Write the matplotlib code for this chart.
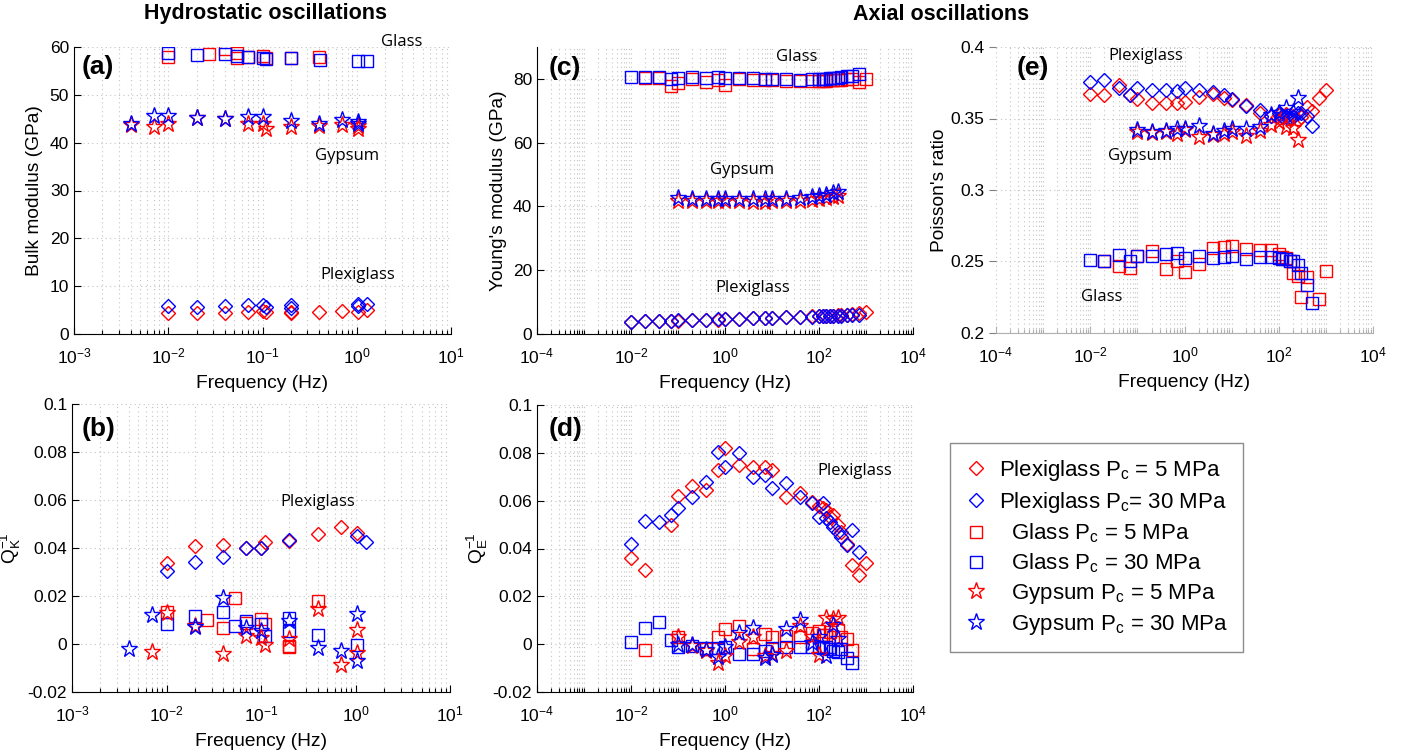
import numpy as np
import matplotlib
matplotlib.use('Agg')
import matplotlib.pyplot as plt
from matplotlib.ticker import LogLocator, NullFormatter, FuncFormatter, FixedLocator

plt.rcParams['font.family'] = ['Liberation Sans', 'DejaVu Sans']
plt.rcParams['mathtext.fontset'] = 'custom'
plt.rcParams['mathtext.rm'] = 'Liberation Sans'
plt.rcParams['mathtext.it'] = 'Liberation Sans:italic'
plt.rcParams['mathtext.default'] = 'regular'
plt.rcParams['axes.unicode_minus'] = False

# ---------------- hydrostatic: bulk modulus (a) ----------------
fa_plexi5 = [0.01, 0.02, 0.04, 0.07, 0.1, 0.11, 0.2, 0.2, 0.4, 0.7, 1.04, 1.3]
Ka_plexi5 = [4.3, 4.3, 4.3, 4.5, 4.9, 4.5, 4.3, 4.7, 4.7, 4.9, 4.7, 5.0]
fa_plexi30 = [0.01, 0.02, 0.04, 0.07, 0.1, 0.11, 0.2, 0.2, 1.04, 1.04, 1.3]
Ka_plexi30 = [5.8, 5.7, 5.8, 6.0, 6.0, 5.6, 6.0, 5.4, 6.3, 5.8, 6.3]
fa_glass5 = [0.01, 0.027, 0.04, 0.053, 0.053, 0.07, 0.1, 0.11, 0.2, 0.4]
Ka_glass5 = [58.0, 58.6, 59.6, 58.8, 57.8, 58.0, 58.2, 57.6, 57.8, 58.0]
fa_glass30 = [0.01, 0.02, 0.04, 0.053, 0.07, 0.1, 0.11, 0.2, 0.41, 1.04, 1.3]
Ka_glass30 = [58.7, 58.4, 58.5, 58.2, 57.9, 57.8, 57.5, 57.6, 57.2, 57.1, 57.1]
fa_gyp5 = [0.004, 0.007, 0.01, 0.02, 0.04, 0.07, 0.1, 0.11, 0.2, 0.4, 0.7, 1.04, 1.04]
Ka_gyp5 = [43.6, 43.3, 44.0, 45.2, 45.0, 43.8, 43.8, 42.9, 43.3, 43.5, 43.6, 43.4, 42.9]
fa_gyp30 = [0.004, 0.007, 0.01, 0.02, 0.04, 0.07, 0.1, 0.2, 0.4, 0.7, 1.04, 1.04]
Ka_gyp30 = [43.8, 45.5, 45.5, 45.2, 45.0, 45.4, 45.4, 44.5, 44.0, 44.7, 44.3, 43.8]

# ---------------- hydrostatic: attenuation (b) ----------------
fb_plexi5 = [0.01, 0.02, 0.04, 0.07, 0.1, 0.11, 0.2, 0.4, 0.7, 1.04]
Qb_plexi5 = [0.0338, 0.0407, 0.0414, 0.040, 0.040, 0.0425, 0.0428, 0.0458, 0.0486, 0.0463]
fb_plexi30 = [0.01, 0.02, 0.04, 0.07, 0.1, 0.2, 1.04, 1.3]
Qb_plexi30 = [0.0303, 0.034, 0.0361, 0.040, 0.040, 0.0435, 0.0451, 0.0425]
fb_glass5 = [0.01, 0.027, 0.04, 0.053, 0.07, 0.1, 0.11, 0.2, 0.2, 0.4]
Qb_glass5 = [0.0133, 0.0099, 0.0067, 0.0192, 0.0088, 0.0106, 0.0083, -0.001, -0.0014, 0.0178]
fb_glass30 = [0.01, 0.02, 0.04, 0.053, 0.07, 0.1, 0.11, 0.2, 0.2, 0.4, 1.04]
Qb_glass30 = [0.0083, 0.0115, 0.0133, 0.0074, 0.0094, 0.0083, 0.0032, 0.0108, 0.0056, 0.0039, -0.0006]
fb_gyp5 = [0.007, 0.01, 0.02, 0.04, 0.07, 0.1, 0.11, 0.2, 0.4, 0.7, 1.04, 1.04]
Qb_gyp5 = [-0.0035, 0.0129, 0.0074, -0.0042, 0.0032, 0.0025, -0.0003, 0.002, 0.0147, -0.0086, 0.0057, -0.0038]
fb_gyp30 = [0.004, 0.007, 0.02, 0.04, 0.07, 0.1, 0.2, 0.4, 0.7, 1.04, 1.04]
Qb_gyp30 = [-0.0021, 0.0122, 0.007, 0.0192, 0.0067, 0.0053, 0.0094, -0.0017, -0.003, 0.0125, -0.0072]

# ---------------- axial frequencies ----------------
f_ax = [0.01, 0.02, 0.04, 0.07, 0.1, 0.2, 0.4, 0.7, 1, 2, 4, 7, 10, 20, 40, 70,
        100, 120, 140, 170, 200, 250, 300, 400, 500, 700, 1000]
f_gyp = [0.1, 0.2, 0.4, 0.7, 1, 2, 4, 7, 10, 20, 40, 70, 100, 140, 200, 250]

# Young's modulus (c)
E_plexi5 = [3.9, 4.0, 4.0, 4.1, 4.2, 4.3, 4.4, 4.5, 4.6, 4.7, 4.9, 5.0, 5.1, 5.2, 5.4, 5.5,
            5.6, 5.6, 5.7, 5.8, 5.8, 5.9, 6.0, 6.1, 6.2, 6.5, 6.8]            # 0.01..1000
E_plexi30 = [3.8, 4.0, 4.1, 4.2, 4.3, 4.4, 4.5, 4.6, 4.7, 4.8, 4.9, 5.0, 5.1, 5.2, 5.3, 5.4,
             5.5, 5.6, 5.6, 5.7, 5.7, 5.8, 5.8, 5.9, 6.0, 6.1]                # 0.01..700
E_glass5 = [80.2, 80.3, 77.9, 78.6, 80.0, 79.0, 79.5, 78.1, 80.0, 79.8, 79.7, 79.5, 79.4, 79.2,
            79.2, 79.3, 79.3, 79.4, 79.5, 79.6, 79.7, 79.8, 79.9, 80.0, 79.0, 80.0]  # 0.02..1000
E_glass30 = [80.5, 80.5, 80.6, 80.0, 80.3, 80.6, 80.4, 80.5, 80.3, 80.4, 80.2, 80.1, 80.0, 79.9,
             79.8, 79.9, 80.0, 80.0, 80.1, 80.2, 80.3, 80.4, 80.6, 80.8, 81.0, 81.4]  # 0.01..700
E_gyp5 = [41.8, 41.7, 41.7, 41.6, 41.6, 41.7, 41.5, 41.5, 41.6, 41.7, 41.8, 42.0, 42.3, 42.6, 43.0, 43.4]
E_gyp30 = [42.5, 42.4, 42.4, 42.3, 42.3, 42.2, 42.2, 42.3, 42.3, 42.4, 42.6, 42.9, 43.3, 43.7, 44.1, 44.6]

# Q_E^-1 (d)
nan = np.nan
QE_plexi5 = [0.0359, 0.031, nan, 0.0498, 0.062, 0.066, 0.0645, 0.073, 0.0819, 0.0749, 0.0739,
             0.0739, 0.0728, 0.0617, 0.063, 0.0596, 0.0578, 0.057, 0.056, 0.053, 0.054, 0.0498,
             0.047, 0.042, 0.033, 0.029, 0.0338]                                # 0.01..1000
QE_plexi30 = [0.0419, 0.0516, 0.0512, 0.054, 0.0568, 0.0617, 0.068, 0.0805, 0.0739, 0.0798, 0.070,
              0.0707, 0.0652, 0.0673, 0.0617, 0.0592, 0.053, 0.059, 0.0526, 0.051, 0.049, 0.047,
              0.045, 0.0415, 0.0478, 0.0387]                                    # 0.01..700
QE_glass5 = [-0.0024, nan, nan, 0.0029, nan, -0.002, 0.003, 0.0063, 0.0074, -0.002, 0.0043, 0.0032,
             0.0036, 0.003, 0.0046, 0.0057, 0.004, 0.0039, 0.005, 0.0032, 0.006, 0.003, 0.002, -0.0026]  # 0.02..500
QE_glass30 = [0.0011, 0.0067, 0.0092, 0.0018, -0.0013, -0.0007, -0.0017, -0.0015, -0.0012, -0.004,
              -0.004, -0.003, -0.0016, -0.001, -0.001, -0.001, -0.001, -0.0015, -0.0012, -0.002,
              -0.003, -0.0032, -0.0022, -0.0058, -0.0079]                       # 0.01..500
QE_gyp5 = [0.0032, -0.0007, -0.003, -0.0079, -0.005, 0.0011, 0.0032, -0.005, -0.004, -0.003,
           0.0074, 0.003, -0.0045, 0.0109, 0.0104, 0.0109]
QE_gyp30 = [-0.0003, -0.0005, -0.0024, -0.0052, -0.001, 0.0046, 0.0067, -0.0056, -0.0045, 0.0063,
            0.0099, 0.0005, 0.0032, -0.0049, 0.0081, 0.002]

# Poisson's ratio (e)
nu_plexi5 = [0.367, 0.3667, 0.3733, 0.3663, 0.3635, 0.361, 0.361, 0.3605, 0.3616, 0.365, 0.3674,
             0.3646, 0.363, 0.3593, 0.3535, 0.3516, 0.3523, 0.351, 0.353, 0.350, 0.352, 0.349,
             0.351, 0.358, 0.355, 0.3646, 0.3698]                               # 0.01..1000
nu_plexi30 = [0.3756, 0.3772, 0.3716, 0.3663, 0.3716, 0.3702, 0.3698, 0.3693, 0.371, 0.3698, 0.3686,
              0.3663, 0.3633, 0.3586, 0.3558, 0.352, 0.354, 0.352, 0.351, 0.3512, 0.3512, 0.354,
              0.354, 0.352, 0.3447]                                             # 0.01..500
nu_glass5 = [0.250, 0.2472, 0.2453, 0.2535, 0.257, 0.2447, 0.250, 0.2428, 0.2486, 0.2593, 0.260,
             0.2605, 0.2588, 0.2577, 0.2577, 0.2555, 0.253, 0.2523, 0.250, 0.2419, 0.240, 0.2249,
             0.2395, nan, 0.224, 0.2437]                                        # 0.02..1000
nu_glass30 = [0.2512, 0.250, 0.2542, 0.2505, 0.2535, 0.2535, 0.2553, 0.2558, 0.2523, 0.2535, 0.2523,
              0.253, 0.2535, 0.2516, 0.253, 0.253, 0.2523, 0.252, 0.2516, 0.250, 0.250, 0.2477,
              0.2419, 0.2337, 0.221]                                            # 0.01..500
nu_gyp5 = [0.3407, 0.340, 0.3407, 0.3395, 0.342, 0.3372, 0.3384, 0.3395, 0.3407, 0.3377, 0.3414,
           0.3453, 0.3477, 0.344, 0.3435, 0.335]
nu_gyp30 = [0.3419, 0.3407, 0.3414, 0.343, 0.343, 0.3447, 0.3395, 0.3414, 0.343, 0.343, 0.344,
            0.3523, 0.354, 0.357, 0.3547, 0.3646]

RED = (1, 0, 0)
BLUE = (0, 0, 1)
MK = {'plexi': ('D', 7.3), 'glass': ('s', 8.2), 'gyp': ('*', 12.5)}
GRID = dict(ls=(0, (1, 3)), color='#c4c4c4', lw=0.8)

W, H = 1401, 752
fig = plt.figure(figsize=(W / 100, H / 100), dpi=100)


def make_ax(l, r, t, b):
    return fig.add_axes([l / W, 1 - b / H, (r - l) / W, (b - t) / H])


def pts(ax, f, v, kind, col, label=None):
    mk, ms = MK[kind]
    return ax.plot(f, v, ls='none', marker=mk, mfc='none', mec=col, ms=ms, mew=1.0, label=label)[0]


def style(ax, xlim, ylim, yticks, xmaj, ylabel, ylab_x):
    ax.set_xscale('log')
    ax.set_xlim(xlim)
    ax.set_ylim(ylim)
    ax.set_yticks(yticks)
    ax.yaxis.set_major_formatter(FuncFormatter(lambda v, p: f'{v:g}'))
    ax.xaxis.set_major_locator(FixedLocator(xmaj))
    ax.xaxis.set_minor_locator(LogLocator(base=10, subs=np.arange(1, 10) * 1.0, numticks=60))
    ax.xaxis.set_minor_formatter(NullFormatter())
    for s in ['top', 'right']:
        ax.spines[s].set_visible(False)
    ax.tick_params(which='both', direction='in', labelsize=12.5, width=0.8)
    ax.tick_params(which='major', length=5)
    ax.tick_params(which='minor', length=3)
    ax.tick_params(axis='x', which='major', pad=9)
    ax.grid(True, which='both', axis='x', **GRID)
    ax.grid(True, which='major', axis='y', **GRID)
    ax.set_axisbelow(True)
    ax.set_xlabel('Frequency (Hz)', fontsize=13.8, labelpad=6)
    ax.set_ylabel(ylabel, fontsize=13.8)
    ax.yaxis.set_label_coords(ylab_x, 0.5)


def note(ax, x, y, s):
    ax.text(x, y, s, transform=ax.transAxes, ha='center', va='center',
            fontsize=12, family=['Open Sans', 'DejaVu Sans'])


def tag(ax, x, y, s):
    ax.text(x, y, s, transform=ax.transAxes, ha='center', va='center',
            fontsize=19, fontweight='bold')


hyd_x = [1e-3, 1e-2, 1e-1, 1e0, 1e1]
ax_x = [1e-4, 1e-2, 1e0, 1e2, 1e4]

# (a)
axa = make_ax(74, 451, 47, 334)
pts(axa, fa_glass5, Ka_glass5, 'glass', RED)
pts(axa, fa_glass30, Ka_glass30, 'glass', BLUE)
pts(axa, fa_gyp5, Ka_gyp5, 'gyp', RED)
pts(axa, fa_gyp30, Ka_gyp30, 'gyp', BLUE)
pts(axa, fa_plexi5, Ka_plexi5, 'plexi', RED)
pts(axa, fa_plexi30, Ka_plexi30, 'plexi', BLUE)
style(axa, (1e-3, 1e1), (0, 60), np.arange(0, 61, 10), hyd_x, 'Bulk modulus (GPa)', -0.082)
note(axa, 0.87, 1.017, 'Glass')
note(axa, 0.724, 0.62, 'Gypsum')
note(axa, 0.753, 0.206, 'Plexiglass')
tag(axa, 0.064, 0.93, '(a)')

# (b)
axb = make_ax(72, 450, 404, 692)
pts(axb, fb_plexi5, Qb_plexi5, 'plexi', RED)
pts(axb, fb_plexi30, Qb_plexi30, 'plexi', BLUE)
pts(axb, fb_glass5, Qb_glass5, 'glass', RED)
pts(axb, fb_glass30, Qb_glass30, 'glass', BLUE)
pts(axb, fb_gyp5, Qb_gyp5, 'gyp', RED)
pts(axb, fb_gyp30, Qb_gyp30, 'gyp', BLUE)
style(axb, (1e-3, 1e1), (-0.02, 0.1), np.arange(-0.02, 0.101, 0.02), hyd_x, '$Q_K^{-1}$', -0.13)
note(axb, 0.651, 0.66, 'Plexiglass')
tag(axb, 0.069, 0.913, '(b)')

# (c)
axc = make_ax(537, 913, 47, 334)
pts(axc, f_ax[1:], E_glass5, 'glass', RED)
pts(axc, f_ax[:-1], E_glass30, 'glass', BLUE)
pts(axc, f_gyp, E_gyp5, 'gyp', RED)
pts(axc, f_gyp, E_gyp30, 'gyp', BLUE)
pts(axc, f_ax, E_plexi5, 'plexi', RED)
pts(axc, f_ax[:-1], E_plexi30, 'plexi', BLUE)
style(axc, (1e-4, 1e4), (0, 90), np.arange(0, 81, 20), ax_x, "Young's modulus (GPa)", -0.08)
note(axc, 0.691, 0.965, 'Glass')
note(axc, 0.545, 0.571, 'Gypsum')
note(axc, 0.575, 0.16, 'Plexiglass')
tag(axc, 0.075, 0.927, '(c)')

# (d)
axd = make_ax(537, 913, 405, 692)
pts(axd, f_ax, QE_plexi5, 'plexi', RED)
pts(axd, f_ax[:-1], QE_plexi30, 'plexi', BLUE)
pts(axd, f_ax[1:-2], QE_glass5, 'glass', RED)
pts(axd, f_ax[:-2], QE_glass30, 'glass', BLUE)
pts(axd, f_gyp, QE_gyp5, 'gyp', RED)
pts(axd, f_gyp, QE_gyp30, 'gyp', BLUE)
style(axd, (1e-4, 1e4), (-0.02, 0.1), np.arange(-0.02, 0.101, 0.02), ax_x, '$Q_E^{-1}$', -0.125)
note(axd, 0.846, 0.77, 'Plexiglass')
tag(axd, 0.077, 0.916, '(d)')

# (e)
axe = make_ax(996, 1373, 47, 333)
h_p5 = pts(axe, f_ax, nu_plexi5, 'plexi', RED, 'Plexiglass P$_c$ = 5 MPa')
h_p30 = pts(axe, f_ax[:-2], nu_plexi30, 'plexi', BLUE, 'Plexiglass P$_c$= 30 MPa')
h_g5 = pts(axe, f_ax[1:], nu_glass5, 'glass', RED, '  Glass P$_c$ = 5 MPa')
h_g30 = pts(axe, f_ax[:-2], nu_glass30, 'glass', BLUE, '  Glass P$_c$ = 30 MPa')
h_y5 = pts(axe, f_gyp, nu_gyp5, 'gyp', RED, '  Gypsum P$_c$ = 5 MPa')
h_y30 = pts(axe, f_gyp, nu_gyp30, 'gyp', BLUE, '  Gypsum P$_c$ = 30 MPa')
style(axe, (1e-4, 1e4), (0.2, 0.4), np.arange(0.2, 0.401, 0.05), ax_x, "Poisson's ratio", -0.127)
axe.spines['left'].set_visible(False)
axe.spines['bottom'].set_color('#b0b0b0')
axe.tick_params(axis='y', direction='out', color='#808080')
axe.tick_params(axis='x', which='both', color='#b0b0b0')
note(axe, 0.398, 0.969, 'Plexiglass')
note(axe, 0.382, 0.619, 'Gypsum')
note(axe, 0.281, 0.126, 'Glass')
tag(axe, 0.098, 0.927, '(e)')

# legend
handles = [h_p5, h_p30, h_g5, h_g30, h_y5, h_y30]
leg = fig.legend(handles, [h.get_label() for h in handles], loc='center',
                 bbox_to_anchor=(948 / W, 1 - 653 / H, (1245 - 948) / W, (653 - 442) / H),
                 fontsize=16, frameon=True, fancybox=False, edgecolor='#707070',
                 labelspacing=0.3, handletextpad=0.5, borderpad=0.7, handlelength=1.0,
                 borderaxespad=0)
leg.get_frame().set_linewidth(1.0)

fig.text(265 / W, 1 - 14 / H, 'Hydrostatic oscillations', ha='center', va='center',
         fontsize=15.5, fontweight='bold')
fig.text(941 / W, 1 - 14 / H, 'Axial oscillations', ha='center', va='center',
         fontsize=15.5, fontweight='bold')

fig.savefig('out.png', dpi=100)
